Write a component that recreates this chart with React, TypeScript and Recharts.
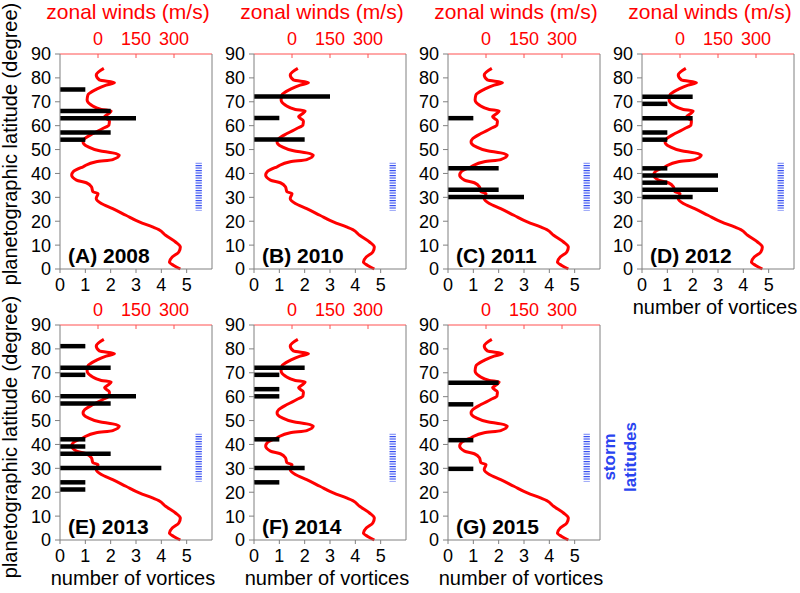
import { ComposedChart, LineChart, Bar, Line, XAxis, YAxis, ReferenceArea, ReferenceLine } from 'recharts';

const FONT = '"Liberation Sans", Arial, Helvetica, sans-serif';
const RED = '#ff0000';
const BLUE = '#2a44f0';
const GRID = '#808080';

// Saturn zonal wind profile (same in every panel)
const windLat = [84, 81.2, 79.1, 78, 77, 75.2, 72.8, 70.7, 68.6, 66.8, 66.1, 64.8, 63.7, 62, 60.2, 58.8, 56.7, 54.6, 53.2, 51.2, 49.5, 48.6, 47.7, 45.8, 44.9, 42.8, 40.7, 39.3, 37.2, 36.1, 34.4, 32.3, 31.6, 29.5, 27.4, 25.3, 22.5, 19.7, 17.6, 16.5, 14.1, 11.3, 9.2, 7.1, 5, 2.9, 1.5, 0];
const windSpeed = [23, -7, 6, 65, 32, -7, -40, -43, -26, 13, 52, 39, 26, 45, 43, 19, -20, -52, -59, -40, 6, 58, 84, 58, -7, -59, -98, -104, -85, -46, -26, -20, 0, -7, 13, 58, 110, 163, 215, 240, 267, 306, 325, 319, 293, 282, 299, 325];

// vortex counts by latitude bin, one pair per year
const latsA = [75, 66, 63, 57, 54];
const countsA = [1, 2, 3, 2, 1];
const latsB = [72, 63, 54];
const countsB = [3, 1, 2];
const latsC = [63, 42, 33, 30];
const countsC = [1, 2, 2, 3];
const latsD = [72, 69, 63, 57, 54, 42, 39, 36, 33, 30];
const countsD = [2, 1, 2, 1, 1, 1, 3, 1, 3, 2];
const latsE = [81, 72, 69, 60, 57, 42, 39, 36, 30, 24, 21];
const countsE = [1, 2, 1, 3, 2, 1, 1, 2, 4, 1, 1];
const latsF = [72, 69, 63, 60, 42, 30, 24];
const countsF = [2, 1, 1, 1, 1, 2, 1];
const latsG = [66, 57, 42, 30];
const countsG = [2, 1, 1, 1];

const latTicks = [0, 10, 20, 30, 40, 50, 60, 70, 80, 90];
const countTicks = [0, 1, 2, 3, 4, 5];
const windTicks = [0, 150, 300];

const windData = windLat.map((lat, i) => ({ lat, wind: windSpeed[i] }));

const panels = [
  { id: 'A', year: '2008', lats: latsA, counts: countsA, left: 60, top: 54, xTitle: false, wTitle: true },
  { id: 'B', year: '2010', lats: latsB, counts: countsB, left: 254, top: 54, xTitle: false, wTitle: true },
  { id: 'C', year: '2011', lats: latsC, counts: countsC, left: 448, top: 54, xTitle: false, wTitle: true },
  { id: 'D', year: '2012', lats: latsD, counts: countsD, left: 642, top: 54, xTitle: true, wTitle: true },
  { id: 'E', year: '2013', lats: latsE, counts: countsE, left: 60, top: 325, xTitle: true, wTitle: false },
  { id: 'F', year: '2014', lats: latsF, counts: countsF, left: 254, top: 325, xTitle: true, wTitle: false },
  { id: 'G', year: '2015', lats: latsG, counts: countsG, left: 448, top: 325, xTitle: true, wTitle: false },
];

const PLOT_H = 215;
const W = 216;
const H = 300;

// top wind axis: tick marks point into the plot, labels sit above
const WindTick = (props: any) => {
  const { x, y, payload } = props;
  return (
    <g>
      <line x1={x} x2={x} y1={y} y2={y + 4} stroke="#ff5050" />
      <text x={x} y={y - 9} textAnchor="middle" fill={RED} fontSize={18} fontFamily={FONT}>
        {payload.value}
      </text>
    </g>
  );
};

function Panel({ id, lats, counts, left, top }: any) {
  const data = lats.map((lat: number, i: number) => ({ lat, count: counts[i] }));
  const tick = { fill: '#000', fontSize: 18, fontFamily: FONT };
  const layer = { position: 'absolute' as const, left: 0, top: 0 };
  return (
    <div style={{ position: 'absolute', left: left - 60, top: top - 54, width: W, height: H }}>
      {/* wind profile and its top axis underneath */}
      <div style={layer}>
        <LineChart
          width={W}
          height={H}
          layout="vertical"
          data={windData}
          margin={{ top: 24, right: 4, bottom: 31, left: 60 }}
        >
          <XAxis
            xAxisId="w"
            type="number"
            orientation="top"
            domain={[-150, 450]}
            ticks={windTicks}
            interval={0}
            height={30}
            tick={<WindTick />}
            tickLine={false}
            stroke="#ff5050"
            tickSize={0}
            tickMargin={0}
          />
          <YAxis type="number" dataKey="lat" domain={[0, 90]} reversed hide />
          <Line
            xAxisId="w"
            dataKey="wind"
            type="monotone"
            stroke={RED}
            strokeWidth={3}
            dot={false}
            activeDot={false}
            isAnimationActive={false}
          />
        </LineChart>
      </div>
      {/* vortex counts and remaining axes on top */}
      <div style={layer}>
        <ComposedChart
          width={W}
          height={H}
          layout="vertical"
          data={data}
          margin={{ top: 54, right: 4, bottom: 1, left: 0 }}
        >
          <defs>
            <pattern id={`hatch${id}`} width="6" height="2.5" patternUnits="userSpaceOnUse">
              <rect x="0" y="0" width="6" height="1.1" fill={BLUE} />
            </pattern>
          </defs>
          <XAxis
            xAxisId="n"
            type="number"
            orientation="bottom"
            domain={[0, 6]}
            ticks={countTicks}
            interval={0}
            height={30}
            tick={tick}
            stroke={GRID}
            tickSize={4}
            tickMargin={5}
          />
          <YAxis
            type="number"
            dataKey="lat"
            domain={[0, 90]}
            ticks={latTicks}
            interval={0}
            reversed
            width={60}
            tick={tick}
            stroke={GRID}
            tickSize={5}
            tickMargin={4}
          />
          <ReferenceArea
            xAxisId="n"
            x1={5.35}
            x2={5.6}
            y1={24.5}
            y2={44.5}
            fill={`url(#hatch${id})`}
            fillOpacity={1}
            stroke="none"
          />
          <ReferenceLine xAxisId="n" x={6} stroke={GRID} />
          <Bar xAxisId="n" dataKey="count" fill="#000" barSize={4.5} isAnimationActive={false} />
        </ComposedChart>
      </div>
    </div>
  );
}

function Labels() {
  return (
    <svg width={800} height={593} style={{ position: 'absolute', left: 0, top: 0, pointerEvents: 'none' }} fontFamily={FONT}>
      {panels.map((p) => (
        <g key={p.id}>
          {p.wTitle && (
            <text x={p.left + 68} y={19} textAnchor="middle" fill={RED} fontSize={21}>
              zonal winds (m/s)
            </text>
          )}
          {p.xTitle && (
            <text x={p.left + 73} y={p.top + PLOT_H + 45} textAnchor="middle" fill="#000" fontSize={20}>
              number of vortices
            </text>
          )}
          <text x={p.left + 8} y={p.top + PLOT_H - 6} fill="#000" fontSize={21} fontWeight="bold">
            ({p.id}) {p.year}
          </text>
        </g>
      ))}
      <text transform="translate(17,144) rotate(-90)" textAnchor="middle" fontSize={20} fill="#000">
        planetographic latitude (degree)
      </text>
      <text transform="translate(17,437) rotate(-90)" textAnchor="middle" fontSize={20} fill="#000">
        planetographic latitude (degree)
      </text>
      <text transform="translate(615,457) rotate(-90)" textAnchor="middle" fontSize={17} fontWeight="bold" fill={BLUE}>
        storm
      </text>
      <text transform="translate(636,457) rotate(-90)" textAnchor="middle" fontSize={17} fontWeight="bold" fill={BLUE}>
        latitudes
      </text>
    </svg>
  );
}

export default function App() {
  return (
    <div style={{ position: 'absolute', left: 0, top: 0, width: 800, height: 593, overflow: 'hidden', background: '#fff' }}>
      {panels.map((p) => (
        <Panel key={p.id} {...p} />
      ))}
      <Labels />
    </div>
  );
}
